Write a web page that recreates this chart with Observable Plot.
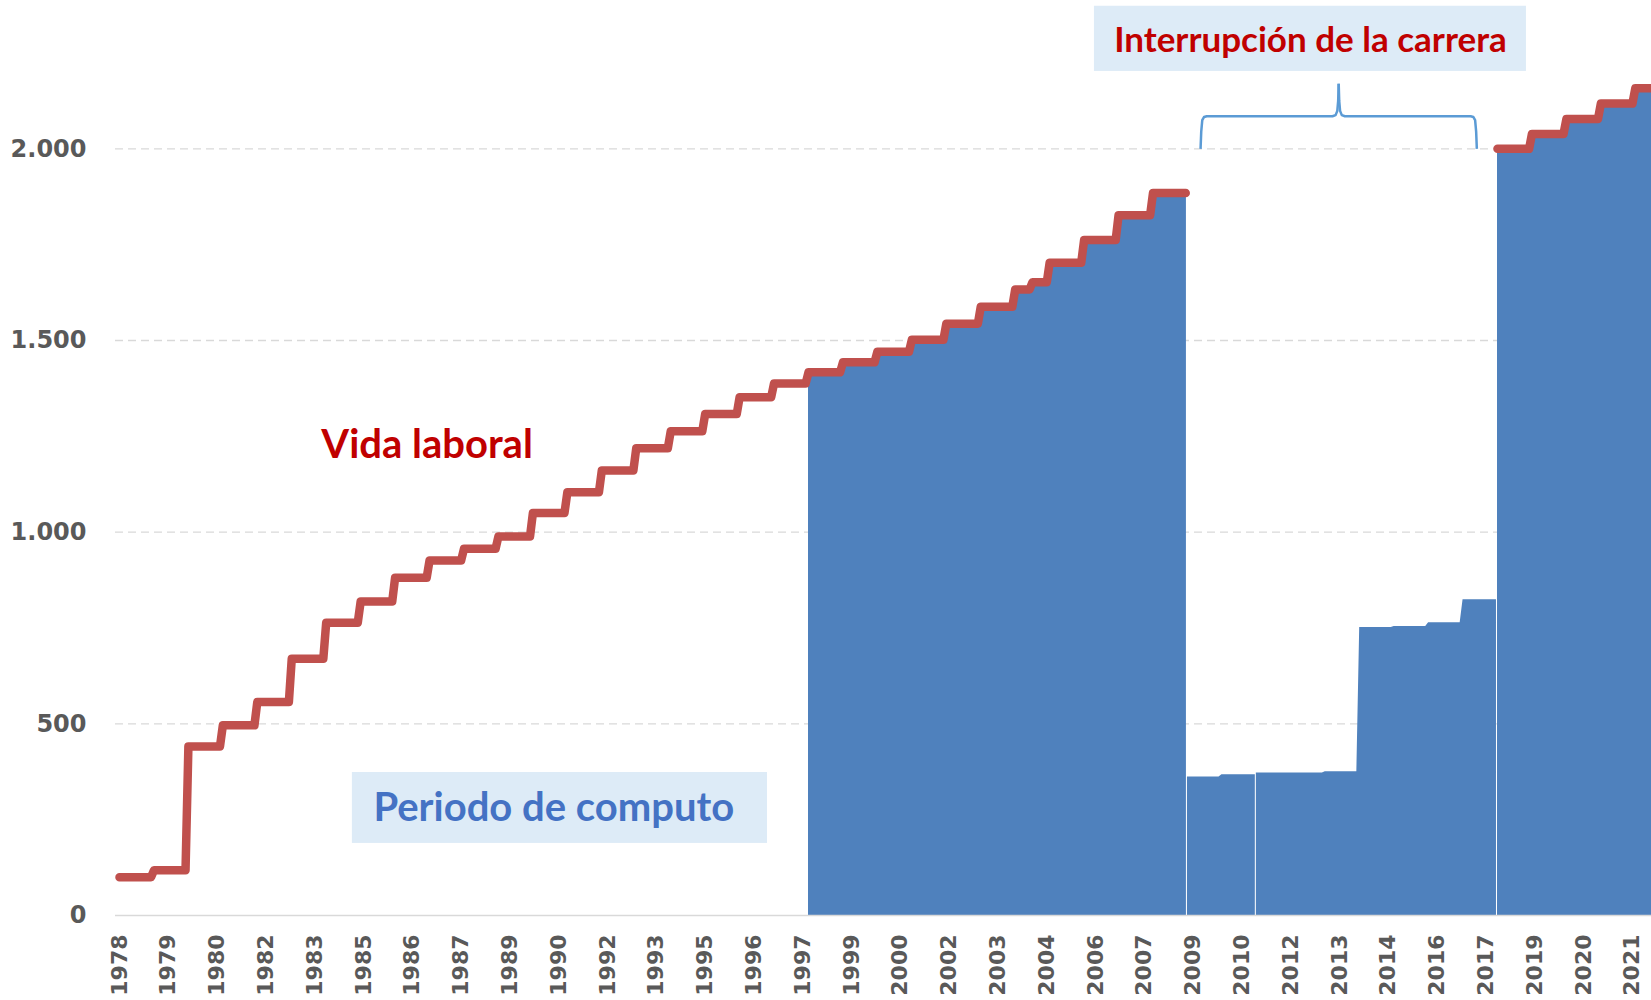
<!DOCTYPE html>
<html>
<head>
<meta charset="utf-8">
<script src="https://cdn.jsdelivr.net/npm/d3@7"></script>
<script src="https://cdn.jsdelivr.net/npm/@observablehq/plot@0.6"></script>
<style>
  html, body { margin: 0; padding: 0; background: #ffffff; overflow: hidden; }
  #chart svg { display: block; overflow: hidden; }
</style>
</head>
<body>
<div id="chart"></div>
<script>
// ---- Vida laboral (red step line): start of each step (decimal year) and value
const vidaDesde = [1978, 1979, 1980, 1981, 1982, 1983, 1984, 1985, 1986, 1987, 1988, 1989, 1990, 1991,
  1992, 1993, 1994, 1995, 1996, 1997, 1998, 1999, 2000, 2001, 2002, 2003, 2004, 2004.5, 2005, 2006,
  2007, 2008, 2018, 2019, 2020, 2021, 2022];
const vidaLaboral = [100, 118, 441, 496, 557, 670, 764, 819, 881, 926, 957, 989, 1050, 1104,
  1161, 1219, 1263, 1308, 1352, 1388, 1417, 1443, 1471, 1502, 1544, 1588, 1633, 1652, 1703, 1762,
  1827, 1885, 2000, 2039, 2078, 2118, 2158];
const vidaTramo = [0, 0, 0, 0, 0, 0, 0, 0, 0, 0, 0, 0, 0, 0, 0, 0, 0, 0, 0, 0, 0, 0, 0, 0, 0, 0, 0, 0, 0, 0,
  0, 0, 1, 1, 1, 1, 1];
const vidaFinTramo = [2008.95, 2022.6];

// ---- Periodo de computo (blue area)
const computoDesde = [1998, 1999, 2000, 2001, 2002, 2003, 2004, 2004.5, 2005, 2006, 2007, 2008,
  2009, 2010, 2011, 2013, 2014, 2015, 2016, 2017, 2018, 2019, 2020, 2021, 2022];
const computo = [1417, 1443, 1471, 1502, 1544, 1588, 1633, 1652, 1703, 1762, 1827, 1885,
  361, 367, 372, 375, 751, 754, 764, 824, 2000, 2039, 2078, 2118, 2158];
const computoTramo = [0, 0, 0, 0, 0, 0, 0, 0, 0, 0, 0, 0, 1, 1, 2, 2, 2, 2, 2, 2, 3, 3, 3, 3, 3];
const computoFinTramo = [2008.97, 2010.97, 2017.97, 2022.6];

// ---- Axis tick labels (Excel category axis, one label every 17 months from Jan 1978)
const tickLabels = ["1978", "1979", "1980", "1982", "1983", "1985", "1986", "1987", "1989", "1990",
  "1992", "1993", "1995", "1996", "1997", "1999", "2000", "2002", "2003", "2004", "2006", "2007",
  "2009", "2010", "2012", "2013", "2014", "2016", "2017", "2019", "2020", "2021"];
const yTicks = [0, 500, 1000, 1500, 2000];

// ---- Annotations
const tituloInterrupcion = {x: 2012.57, y: 2283, t: "Interrupción de la carrera"};
const etiquetaVida = {x: 1983.86, y: 1226, t: "Vida laboral"};
const etiquetaComputo = {x: 1985.37, y: 279, t: "Periodo de computo"};
const cajas = [
  {x1: 2006.30, x2: 2018.84, y1: 2202, y2: 2372},
  {x1: 1984.76, x2: 1996.81, y1: 188, y2: 373}
];
const llave = {desde: 2009.38, hasta: 2017.40, base: 2000, medio: 2085, punta: 2170};

// ---- Build step series
function escalones(desde, valores, tramo, fin) {
  const out = [];
  desde.forEach((s, i) => {
    const mismo = i + 1 < desde.length && tramo[i + 1] === tramo[i];
    const e = mismo ? desde[i + 1] - 1 / 12 : fin[tramo[i]];
    out.push({x: s, y: valores[i], z: tramo[i]}, {x: e, y: valores[i], z: tramo[i]});
  });
  return out;
}
const vidaPts = escalones(vidaDesde, vidaLaboral, vidaTramo, vidaFinTramo);
const compPts = escalones(computoDesde, computo, computoTramo, computoFinTramo);

// Brace path (two halves meeting at the tip)
const L = llave.desde, R = llave.hasta, C = (L + R) / 2, M = llave.medio;
const mitad = (s, z) => [
  [s.e, llave.base], [s.e + s.d * 0.02, llave.base + 45], [s.e + s.d * 0.05, M - 10], [s.e + s.d * 0.1, M - 2],
  [s.e + s.d * 0.18, M], [C - s.d * 0.18, M], [C - s.d * 0.09, M + 3], [C - s.d * 0.04, M + 14],
  [C - s.d * 0.015, M + 40], [C, llave.punta]
].map(([x, y]) => ({x, y, z}));
const llavePts = [...mitad({e: L, d: 1}, 0), ...mitad({e: R, d: -1}, 1)];

const tickPos = tickLabels.map((_, i) => 1978 + 17 * i / 12);
const esLocale = d3.formatLocale({decimal: ",", thousands: ".", grouping: [3], currency: ["", "€"]});
const fmtY = esLocale.format(",.0f");

const axisFont = "'DejaVu Sans', Verdana, sans-serif";
const annFont = "Lato, 'Open Sans', sans-serif";

const chart = Plot.plot({
  width: 1651,
  height: 1000,
  marginLeft: 115,
  marginRight: 0,
  marginTop: 0,
  marginBottom: 85,
  style: {background: "#ffffff", fontFamily: axisFont},
  x: {domain: [1977.884, 2022.47]},
  y: {domain: [0, 2387]},
  marks: [
    Plot.gridY(yTicks.filter(d => d > 0), {stroke: "#D9D9D9", strokeOpacity: 1, strokeWidth: 1.4, strokeDasharray: "8,5"}),
    Plot.areaY(compPts, {x: "x", y: "y", z: "z", fill: "#4F81BD", curve: "linear"}),
    Plot.ruleY([0], {stroke: "#D9D9D9", strokeWidth: 1.6}),
    Plot.line(vidaPts, {x: "x", y: "y", z: "z", stroke: "#C0504D", strokeWidth: 8.5,
      strokeLinejoin: "round", strokeLinecap: "round", curve: "linear"}),
    Plot.line(llavePts, {x: "x", y: "y", z: "z", stroke: "#5B9BD5", strokeWidth: 2.5, curve: "linear",
      strokeLinejoin: "round", strokeLinecap: "butt"}),
    Plot.rect(cajas, {x1: "x1", x2: "x2", y1: "y1", y2: "y2", fill: "#DDEBF7"}),
    Plot.text([tituloInterrupcion], {x: "x", y: "y", text: "t", fill: "#C00000", textAnchor: "middle",
      fontSize: 35, fontWeight: "bold", fontFamily: annFont, lineAnchor: "middle"}),
    Plot.text([etiquetaVida], {x: "x", y: "y", text: "t", fill: "#C00000", textAnchor: "start",
      fontSize: 40, fontWeight: "bold", fontFamily: annFont, lineAnchor: "middle"}),
    Plot.text([etiquetaComputo], {x: "x", y: "y", text: "t", fill: "#4472C4", textAnchor: "start",
      fontSize: 40, fontWeight: "bold", fontFamily: annFont, lineAnchor: "middle"}),
    Plot.axisY(yTicks, {tickSize: 0, tickPadding: 29, tickFormat: fmtY, fontSize: 24, fontWeight: "bold",
      fill: "#595959", label: null}),
    Plot.axisX(tickPos, {tickSize: 0, tickPadding: 19, tickRotate: -90,
      tickFormat: d => tickLabels[Math.round((d - 1978) * 12 / 17)], fontSize: 22, fontWeight: "bold",
      fill: "#595959", label: null})
  ]
});
document.getElementById("chart").appendChild(chart);
</script>
</body>
</html>
